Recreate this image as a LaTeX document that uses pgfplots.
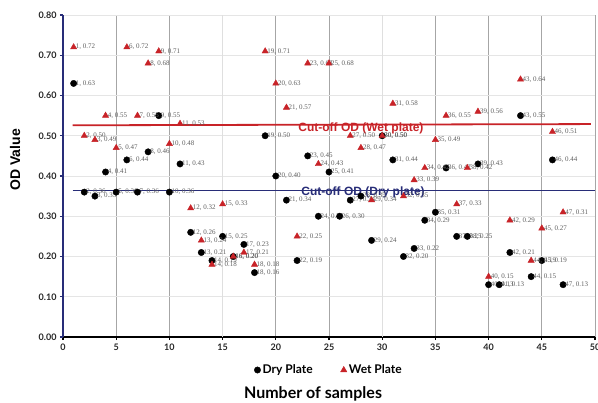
\documentclass[border=0pt]{standalone}
\usepackage{fontspec}
\setmainfont{Lato}
\newfontfamily\arialb{Liberation Sans}
\newfontfamily\seriflbl{Liberation Serif}
\usepackage{pgfplots}
\pgfplotsset{compat=1.18}
\usepackage{pgfplotstable}
\definecolor{wetred}{RGB}{200,35,40}
\definecolor{navy}{RGB}{40,45,120}
\definecolor{lbl}{RGB}{95,95,95}

% dry plate OD values
\pgfplotstableread{
x y
1 0.63
2 0.36
3 0.35
4 0.41
5 0.36
6 0.44
7 0.36
8 0.46
9 0.55
10 0.36
11 0.43
12 0.26
13 0.21
14 0.19
15 0.25
16 0.20
17 0.23
18 0.16
19 0.50
20 0.40
21 0.34
22 0.19
23 0.45
24 0.30
25 0.41
26 0.30
27 0.34
28 0.35
29 0.24
30 0.50
31 0.44
32 0.20
33 0.22
34 0.29
35 0.31
36 0.42
37 0.25
38 0.25
39 0.43
40 0.13
41 0.13
42 0.21
43 0.55
44 0.15
45 0.19
46 0.44
47 0.13
}\dry

% wet plate OD values
\pgfplotstableread{
x y
1 0.72
2 0.50
3 0.49
4 0.55
5 0.47
6 0.72
7 0.55
8 0.68
9 0.71
10 0.48
11 0.53
12 0.32
13 0.24
14 0.18
15 0.33
16 0.20
17 0.21
18 0.18
19 0.71
20 0.63
21 0.57
22 0.25
23 0.68
24 0.43
25 0.68
27 0.50
28 0.47
29 0.34
30 0.50
31 0.58
32 0.35
33 0.39
34 0.42
35 0.49
36 0.55
37 0.33
38 0.42
39 0.56
40 0.15
42 0.29
43 0.64
44 0.19
45 0.27
46 0.51
47 0.31
}\wet

\begin{document}
\begin{tikzpicture}
\begin{axis}[
    name=ax,
    scale only axis,
    width=532pt, height=322pt,
    xmin=0, xmax=50, ymin=0, ymax=0.8,
    axis lines=left,
    axis line style={-},
    x axis line style={black, line width=1.6pt},
    y axis line style={navy, line width=1.6pt},
    xtick={0,5,10,20,25,35,40,45,50},
    extra x ticks={15,30},
    extra x tick style={major grid style={gray!25, line width=0.8pt}},
    ytick={0,0.1,...,0.8},
    tick align=outside,
    major tick length=3pt,
    xtick style={black, line width=1.2pt},
    ytick style={navy, line width=1.2pt},
    xmajorgrids, ymajorgrids,
    major grid style={gray!70, line width=0.8pt},
    every axis y grid/.style={gray!20, line width=0.6pt},
    yticklabel style={/pgf/number format/fixed, /pgf/number format/fixed zerofill,
        /pgf/number format/precision=2},
    tick label style={font=\bfseries\fontsize{9}{10}\selectfont, text=black!85},
    /pgf/number format/assume math mode=true,
    xlabel={Number of samples},
    ylabel={OD Value},
    xlabel style={font=\bfseries\fontsize{16}{17}\selectfont, at={(axis description cs:0.47,-0.176)}, anchor=center},
    ylabel style={font=\arialb\bfseries\fontsize{14}{15}\selectfont, at={(axis description cs:-0.090,0.55)}, anchor=center},
    legend style={at={(0.5,-0.1025)}, anchor=center, draw=none, fill=none,
        legend columns=2, font=\bfseries\fontsize{12}{13}\selectfont,
        /tikz/every even column/.append style={column sep=26pt}},
    legend cell align=left,
    clip=false,
    nodes near coords={\pgfmathprintnumber{\myx}, \pgfmathprintnumber[fixed,fixed zerofill,precision=2]{\pgfplotspointmeta}},
    point meta=y,
    every node near coord/.append style={anchor=west, xshift=1.5pt, text=lbl,
        font=\seriflbl\fontsize{7}{8}\selectfont, inner sep=0.5pt},
]

% cut-off lines
\addplot[wetred, line width=1.8pt, forget plot, nodes near coords={}] coordinates {(0.9,0.526) (49.6,0.529)};
\addplot[navy, line width=1.8pt, forget plot, nodes near coords={}] coordinates {(0.9,0.364) (50,0.364)};

\addplot[only marks, mark=*, mark size=3.2pt, black,
    visualization depends on={\thisrow{x} \as \myx}] table[x=x, y=y] {\dry};
\addlegendentry{Dry Plate}

\addplot[only marks, mark=triangle*, mark size=3.6pt, wetred,
    visualization depends on={\thisrow{x} \as \myx}] table[x=x, y=y] {\wet};
\addlegendentry{Wet Plate}

\node[wetred, font=\arialb\bfseries\fontsize{12}{13}\selectfont] at (axis cs:28.0,0.519) {Cut-off OD (Wet plate)};
\node[navy, font=\arialb\bfseries\fontsize{12}{13}\selectfont] at (axis cs:28.2,0.360) {Cut-off OD (Dry plate)};
\end{axis}
\pgfresetboundingbox
\path[use as bounding box] ([shift={(-63pt,-66pt)}]ax.south west) rectangle ([shift={(3pt,15pt)}]ax.north east);
\end{tikzpicture}
\end{document}
